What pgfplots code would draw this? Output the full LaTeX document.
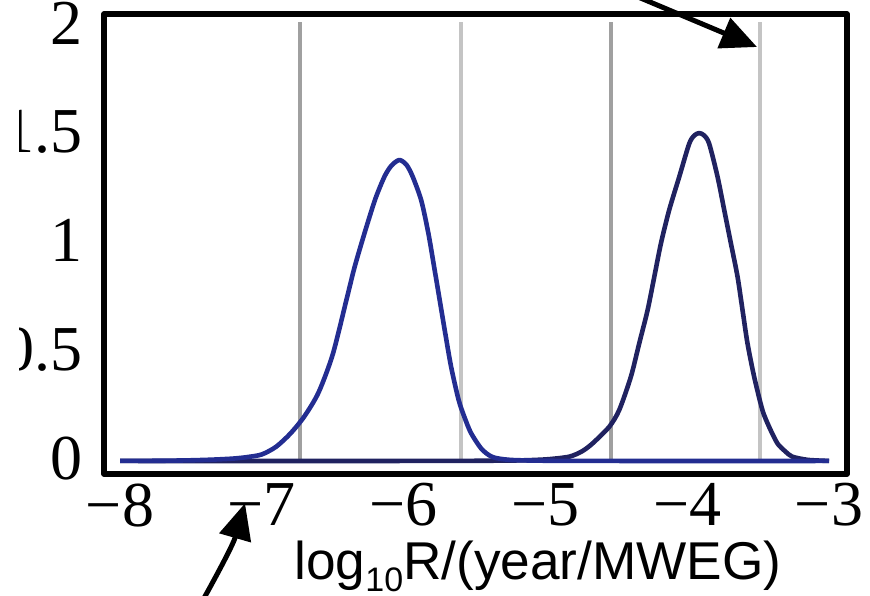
\documentclass[border=0pt]{standalone}
\usepackage{fontspec}
\setmainfont{Liberation Sans}
\newfontfamily\tickfont{Liberation Serif}
\usepackage{pgfplots}
\pgfplotsset{compat=1.18}
\usetikzlibrary{arrows.meta}
\definecolor{curveA}{RGB}{35,45,145}
\definecolor{curveB}{RGB}{32,34,96}
\definecolor{bandA}{RGB}{160,160,160}
\definecolor{bandB}{RGB}{196,196,196}

\begin{document}
\begin{tikzpicture}
\useasboundingbox (-26pt,-30.5pt) rectangle (191.5pt,118.5pt);
\begin{axis}[
  at={(0,0)}, anchor=south west,
  scale only axis, width=185.75pt, height=115pt,
  xmin=-8.113, xmax=-2.873, ymin=-0.06, ymax=2.057,
  axis line style={line width=1.4pt, black},
  xtick={-8,-7,-6,-5,-4,-3},
  xticklabels={−8,−7,−6,−5,−4,−3},
  ytick={0,0.5,1,1.5,2},
  yticklabels={0,0.5,1,1.5,2},
  major tick length=0pt,
  tick label style={font=\fontsize{16}{18}\tickfont, inner sep=0pt},
  xticklabel style={anchor=north, yshift=-2.2pt},
  yticklabel style={anchor=east, xshift=-5.25pt, yshift=0.7pt},
  xlabel={log\raisebox{-3pt}{\fontsize{8.5}{10}\selectfont 10}R/(year/MWEG)},
  xlabel style={font=\fontsize{13.3}{15}\selectfont, anchor=base, inner sep=0pt, at={(axis description cs:0.584,-0.2304)}},
  clip=false,
  line join=round,
]
% interval lines
\addplot[bandA, line width=1pt] coordinates {(-6.729,0) (-6.729,2.02)};
\addplot[bandB, line width=1pt] coordinates {(-5.594,0) (-5.594,2.02)};
\addplot[bandA, line width=1pt] coordinates {(-4.535,0) (-4.535,2.02)};
\addplot[bandB, line width=1pt] coordinates {(-3.486,0) (-3.486,2.02)};

% second peak
\addplot[curveB, line width=1.15pt, smooth, tension=0.45] coordinates {
(-8.0,0) (-6.0,0) (-5.4,0.001) (-5.15,0.003) (-4.98,0.008) (-4.83,0.02)
(-4.74,0.045) (-4.667,0.081) (-4.549,0.158) (-4.479,0.235) (-4.397,0.388)
(-4.338,0.542) (-4.279,0.695) (-4.232,0.848) (-4.185,1.002) (-4.127,1.155)
(-4.056,1.308) (-3.986,1.46) (-3.95,1.498) (-3.915,1.509) (-3.88,1.498)
(-3.845,1.46) (-3.786,1.308) (-3.739,1.155) (-3.692,1.002) (-3.645,0.848)
(-3.610,0.695) (-3.575,0.542) (-3.528,0.388) (-3.47,0.235) (-3.423,0.158)
(-3.364,0.081) (-3.31,0.045) (-3.26,0.02) (-3.15,0.005) (-3.0,0)};

% first peak
\addplot[curveA, line width=1.15pt, smooth, tension=0.45] coordinates {
(-8.0,0) (-7.7,0.001) (-7.5,0.003) (-7.35,0.006) (-7.2,0.011) (-7.1,0.018)
(-7.0,0.03) (-6.9,0.065) (-6.8,0.125) (-6.7,0.205) (-6.6,0.315)
(-6.5,0.49) (-6.4,0.75) (-6.345,0.894) (-6.275,1.05)
(-6.2,1.205) (-6.134,1.31) (-6.085,1.36) (-6.03,1.385) (-5.98,1.363)
(-5.937,1.31) (-5.876,1.20) (-5.826,1.05) (-5.785,0.894) (-5.746,0.742)
(-5.707,0.59) (-5.665,0.433) (-5.612,0.281) (-5.57,0.2) (-5.525,0.129)
(-5.45,0.055) (-5.373,0.018) (-5.25,0.005) (-5.0,0.001) (-4.5,0) (-3.0,0)};
\end{axis}
% annotation arrows
\draw[line width=1.25pt, -{Triangle[length=9pt,width=8pt]}] (129pt,121.15pt) -- (163.25pt,106.75pt);
\draw[line width=1.25pt, -{Triangle[length=9pt,width=8pt]}] (24.75pt,-31.5pt) to[out=61,in=-106] (35.25pt,-7.33pt);
% left edge of the original figure is cut off
\fill[white] (-26pt,-30.5pt) rectangle (-21.25pt,118.5pt);
\end{tikzpicture}
\end{document}
